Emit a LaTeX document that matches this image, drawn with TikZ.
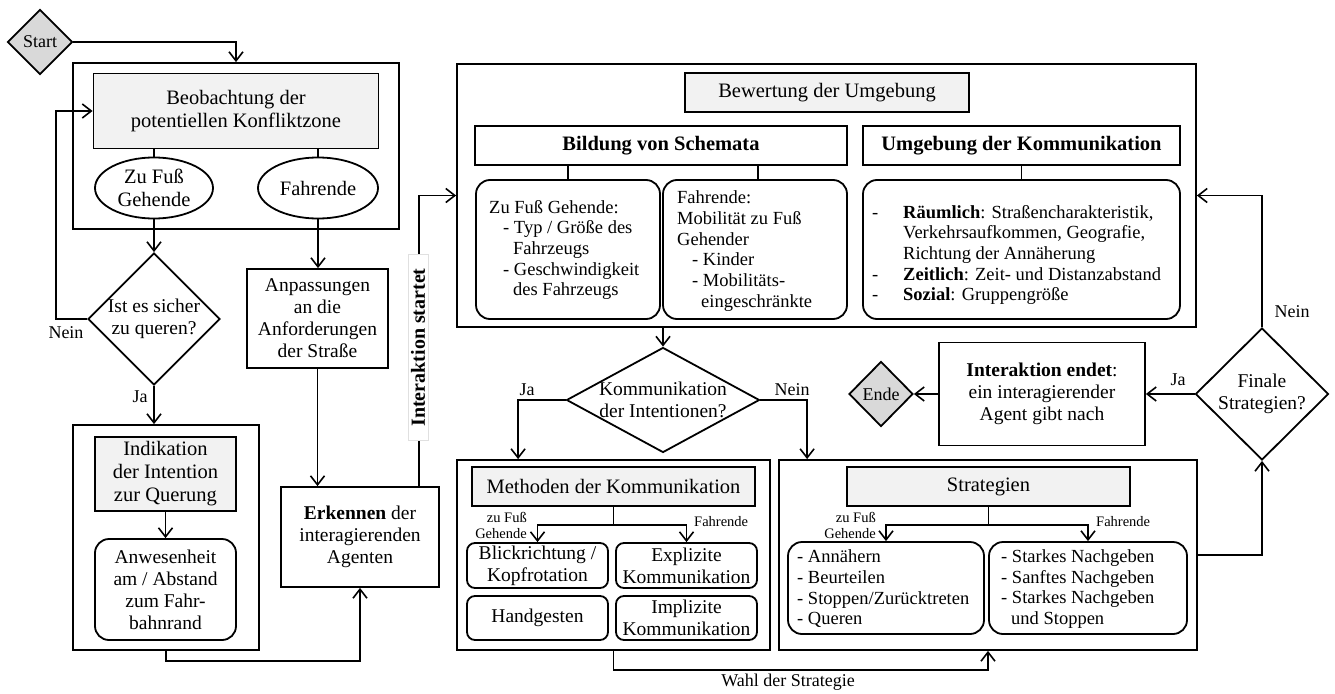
\documentclass[tikz,border=0pt]{standalone}
\usepackage{fontspec}
\setmainfont{Liberation Serif}
\usetikzlibrary{arrows.meta,shapes.geometric,calc}
\definecolor{headgray}{HTML}{F2F2F2}
\definecolor{termgray}{HTML}{D9D9D9}

\begin{document}
\begin{tikzpicture}[x=1pt,y=-1pt,
  every node/.style={font=\fontsize{19.5}{22}\selectfont, inner sep=0pt},
  frame/.style={draw, line width=1.8pt, rectangle},
  plain/.style={draw, line width=1.8pt, fill=white, rectangle, align=center},
  head/.style={plain, fill=headgray, font=\fontsize{20.5}{23}\selectfont},
  title/.style={plain, font=\bfseries\fontsize{20.5}{23}\selectfont},
  rbox/.style={plain, rounded corners=14pt},
  sbox/.style={plain, rounded corners=8pt},
  dia/.style={draw, line width=1.8pt, diamond, fill=white},
  oval/.style={draw, line width=1.8pt, ellipse, fill=white, align=center, font=\fontsize{20.5}{23}\selectfont},
  txt/.style={align=center},
  lst/.style={align=left, anchor=west, font=\fontsize{18.5}{20.7}\selectfont},
  lbl/.style={font=\fontsize{18}{20}\selectfont},
  small/.style={font=\fontsize{14.5}{16}\selectfont, align=right},
  conn/.style={line width=1.6pt},
  arr/.style={conn, -{Straight Barb[length=9pt,width=14pt]}},
]
\useasboundingbox (0,0) rectangle (1335,693);

% ---------------- frames ----------------
\node[frame, minimum width=326pt, minimum height=166pt] (f1) at (236,146) {};
\node[frame, minimum width=186pt, minimum height=225pt] (f2) at (166,537.5) {};
\node[frame, minimum width=739pt, minimum height=263pt] (big) at (826.5,195.5) {};
\node[frame, minimum width=313pt, minimum height=190pt] (mf) at (613.5,555) {};
\node[frame, minimum width=418pt, minimum height=190pt] (sf) at (988,555) {};

% ---------------- left column ----------------
\node[dia, fill=termgray, minimum width=65pt, minimum height=65pt] (start) at (40,42) {};
\node[lbl] (starttxt) at (start) {Start};
\node[head, minimum width=285pt, minimum height=75pt] (obs) at (236,111) {Beobachtung der\\potentiellen Konfliktzone};
\node[oval, minimum width=118pt, minimum height=61pt] (ped) at (154,188) {Zu Fuß\\Gehende};
\node[oval, minimum width=120pt, minimum height=61pt] (veh) at (318,188) {Fahrende};
\node[dia, minimum width=132pt, minimum height=132pt] (safe) at (154,319) {};
\node[txt] (safetxt) at (safe) {Ist es sicher\\zu queren?};
\node[head, minimum width=141pt, minimum height=74pt] (ind) at (165.5,474) {Indikation\\der Intention\\zur Querung};
\node[rbox, minimum width=141pt, minimum height=101pt] (anw) at (165.5,589.5) {Anwesenheit\\am / Abstand\\zum Fahr-\\bahnrand};
\node[plain, minimum width=141pt, minimum height=99pt] (anp) at (317.5,318.5) {Anpassungen\\an die\\Anforderungen\\der Straße};
\node[plain, minimum width=158pt, minimum height=100pt] (erk) at (360,537) {\textbf{Erkennen} der\\interagierenden\\Agenten};

\draw[arr] (start.east) -| (f1.north);
\draw[conn] (obs.south -| ped) -- (ped.north);
\draw[conn] (obs.south -| veh) -- (veh.north);
\draw[arr] (ped.south) -- (safe.north);
\draw[arr] (safe.west) -- ++(-31,0) |- (obs.west);
\draw[arr] (safe.south) -- (safe.south |- f2.north);
\draw[arr] (ind.south) -- (anw.north);
\draw[arr] (veh.south) -- (veh.south |- anp.north);
\draw[arr] (anp.south) -- (anp.south |- erk.north);
\draw[arr] (f2.south) -- ++(0,10) -| (erk.south);
\draw[arr] ($(erk.north east)+(-21,0)$) |- (big.west);
\node[lbl] (nein1) at (66,333) {Nein};
\node[lbl] (ja1) at (140,397) {Ja};
\node[rotate=90, fill=white, draw=black!12, line width=0.5pt, inner xsep=14pt, inner ysep=3pt,
      font=\bfseries\fontsize{20}{22}\selectfont] (istart) at (418,347.5) {Interaktion startet};

% ---------------- assessment of the surroundings ----------------
\node[head, minimum width=284pt, minimum height=39pt] (bew) at (827,92.5) {Bewertung der Umgebung};
\node[title, minimum width=372pt, minimum height=39pt] (bild) at (661,145.5) {Bildung von Schemata};
\node[title, minimum width=317pt, minimum height=39pt] (umg) at (1021.5,145.5) {Umgebung der Kommunikation};
\node[rbox, minimum width=184pt, minimum height=139pt] (s1) at (568,249.5) {};
\node[rbox, minimum width=184pt, minimum height=139pt] (s2) at (755,249.5) {};
\node[rbox, minimum width=317pt, minimum height=139pt] (u1) at (1021.5,249.5) {};
\draw[conn] (bild.south -| s1) -- (s1.north);
\draw[conn] ($(bild.south -| s2)+(3,0)$) -- ($(s2.north)+(3,0)$);
\draw[conn] (umg.south) -- (u1.north);
\node[lst] (s1t) at (489,250) {Zu Fuß Gehende:\\
  \hspace*{14pt}- Typ / Größe des\\
  \hspace*{24pt}Fahrzeugs\\
  \hspace*{14pt}- Geschwindigkeit\\
  \hspace*{24pt}des Fahrzeugs};
\node[lst] (s2t) at (677,251) {Fahrende:\\
  Mobilität zu Fuß\\
  Gehender\\
  \hspace*{15pt}- Kinder\\
  \hspace*{15pt}- Mobilitäts-\\
  \hspace*{24pt}eingeschränkte};
\node[lst] (u1t) at (872,255) {\makebox[31pt][l]{-}\textbf{Räumlich}: Straßencharakteristik,\\
  \hspace*{31pt}Verkehrsaufkommen, Geografie,\\
  \hspace*{31pt}Richtung der Annäherung\\
  \makebox[31pt][l]{-}\textbf{Zeitlich}: Zeit- und Distanzabstand\\
  \makebox[31pt][l]{-}\textbf{Sozial}: Gruppengröße};

% ---------------- communication decision ----------------
\node[dia, minimum width=193pt, minimum height=105pt] (kd) at (663,400) {};
\node[txt] (kdtxt) at (kd) {Kommunikation\\der Intentionen?};
\draw[arr] (kd.north |- big.south) -- (kd.north);
\draw[arr] (kd.west) -| ($(mf.north west)+(62,0)$);
\draw[arr] (kd.east) -| ($(sf.north west)+(29,0)$);
\node[lbl] (ja2) at (527,390) {Ja};
\node[lbl] (nein2) at (792,390) {Nein};

% ---------------- methods of communication ----------------
\node[head, minimum width=283pt, minimum height=39pt] (mh) at (613.5,486.5) {Methoden der Kommunikation};
\node[sbox, minimum width=141pt, minimum height=45pt] (b1) at (537.5,565.5) {Blickrichtung /\\Kopfrotation};
\node[sbox, minimum width=141pt, minimum height=45pt] (b2) at (686.5,565.5) {Explizite\\Kommunikation};
\node[sbox, minimum width=141pt, minimum height=44pt] (b3) at (537.5,618) {Handgesten};
\node[sbox, minimum width=141pt, minimum height=44pt] (b4) at (686.5,618) {Implizite\\Kommunikation};
\coordinate (msplit) at ($(mh.south)+(0,18)$);
\draw[conn] (mh.south) -- (msplit);
\draw[arr] (msplit) -| (b1.north);
\draw[arr] (msplit) -| (b2.north);
\node[small, anchor=east] (mped) at (527,525) {zu Fuß\\Gehende};
\node[small, anchor=west] (mveh) at (694,522) {Fahrende};

% ---------------- strategies ----------------
\node[head, minimum width=283pt, minimum height=39pt] (sh) at (988.5,486.5) {Strategien};
\node[rbox, minimum width=196pt, minimum height=92pt] (sl) at (886,588) {};
\node[rbox, minimum width=198pt, minimum height=92pt] (sr) at (1088,588) {};
\node[lst] (slt) at (797,589) {- Annähern\\- Beurteilen\\- Stoppen/Zurücktreten\\- Queren};
\node[lst] (srt) at (1001,589) {- Starkes Nachgeben\\- Sanftes Nachgeben\\- Starkes Nachgeben\\\hspace*{10pt}und Stoppen};
\coordinate (ssplit) at ($(sh.south)+(0,18)$);
\draw[conn] (sh.south) -- (ssplit);
\draw[arr] (ssplit) -| (sl.north);
\draw[arr] (ssplit) -| (sr.north);
\node[small, anchor=east] (sped) at (876,525) {zu Fuß\\Gehende};
\node[small, anchor=west] (sveh) at (1096,522) {Fahrende};

\draw[arr] (mf.south) -- ++(0,19) -| (sf.south);
\node[lbl] (wahl) at (788,682) {Wahl der Strategie};

% ---------------- end of interaction ----------------
\node[dia, fill=termgray, minimum width=64pt, minimum height=65pt] (ende) at (881,394) {};
\node[lbl] (endetxt) at (ende) {Ende};
\node[plain, minimum width=206pt, minimum height=103pt] (ie) at (1042,394) {\textbf{Interaktion endet}:\\ein interagierender\\Agent gibt nach};
\node[dia, minimum width=133pt, minimum height=132pt] (fin) at (1262,394) {};
\node[txt] (fintxt) at (fin) {Finale\\Strategien?};
\draw[arr] (fin.west) -- (ie.east);
\draw[arr] (ie.west) -- (ende.east);
\draw[arr] (fin.north) |- (big.east);
\draw[arr] (sf.east) -| (fin.south);
\node[lbl] (ja3) at (1178,380) {Ja};
\node[lbl] (nein3) at (1292,312) {Nein};
\end{tikzpicture}
\end{document}
